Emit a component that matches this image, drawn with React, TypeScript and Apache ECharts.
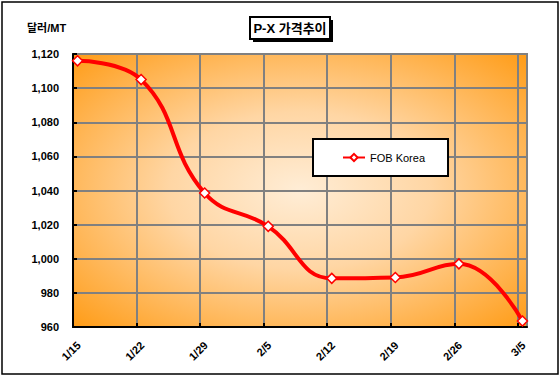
import React, { useEffect, useRef } from "react";
import * as echarts from "echarts";

const dates = ["1/15", "1/22", "1/29", "2/5", "2/12", "2/19", "2/26", "3/5"];
const fobKorea = [1116, 1105, 1038.5, 1019, 988.5, 989, 997, 963.5];
const seriesName = "FOB Korea";
const titleText = "P-X 가격추이";
const unitText = "달러/MT";
const daysPerWeek = 7;
const midDay = 0.5; // Excel date axis plots values at mid-day of each date

export default function App() {
  const ref = useRef<HTMLDivElement>(null);
  useEffect(() => {
    if (!ref.current) return;
    const chart = echarts.init(ref.current, null, { renderer: "svg" });
    const data = fobKorea.map((v, i) => [i * daysPerWeek + midDay, v]);
    const font = "'Liberation Sans', Arial, 'Noto Sans CJK KR', sans-serif";
    chart.setOption({
      animation: false,
      backgroundColor: "#ffffff",
      textStyle: { fontFamily: font },
      grid: {
        left: 73,
        top: 54,
        right: 33,
        bottom: 54,
        show: true,
        borderColor: "#808080",
        borderWidth: 2,
        backgroundColor: new echarts.graphic.RadialGradient(0.5, 0.5, 0.72, [
          { offset: 0, color: "#FFEDD6" },
          { offset: 0.4, color: "#FFD6A4" },
          { offset: 1, color: "#FF9A12" },
        ]),
      },
      legend: {
        left: 313,
        top: 139,
        padding: [13, 23, 13, 29],
        backgroundColor: "#ffffff",
        borderColor: "#000000",
        borderWidth: 2,
        itemWidth: 22,
        itemHeight: 9,
        textStyle: { fontFamily: font, fontSize: 11, color: "#000" },
        data: [seriesName],
      },
      xAxis: {
        type: "value",
        min: 0,
        max: (dates.length - 1) * daysPerWeek + 1,
        interval: daysPerWeek,
        axisLine: { show: true, onZero: false, lineStyle: { color: "#000", width: 2 } },
        axisTick: { show: true, inside: true, length: 4, lineStyle: { color: "#000", width: 2 } },
        splitLine: { show: true, lineStyle: { color: "#808080", width: 2 } },
        axisLabel: {
          rotate: 45,
          margin: 22,
          padding: [0, -8, 0, 0],
          fontSize: 11,
          fontWeight: "bold",
          color: "#000",
          fontFamily: font,
          showMaxLabel: false,
          formatter: (v: number) => {
            const i = v / daysPerWeek;
            return Number.isInteger(i) && dates[i] ? dates[i] : "";
          },
        },
      },
      yAxis: {
        type: "value",
        min: 960,
        max: 1120,
        interval: 20,
        axisLine: { show: true, lineStyle: { color: "#000", width: 2 } },
        axisTick: { show: true, inside: true, length: 4, lineStyle: { color: "#000", width: 2 } },
        splitLine: { show: true, lineStyle: { color: "#808080", width: 2 } },
        axisLabel: {
          margin: 14,
          fontSize: 11,
          fontWeight: "bold",
          color: "#000",
          fontFamily: font,
          formatter: (v: number) => v.toLocaleString("en-US"),
        },
      },
      series: [
        {
          name: seriesName,
          type: "line",
          data,
          smooth: 0.45,
          symbol: "diamond",
          symbolSize: 10,
          itemStyle: { color: "#ffffff", borderColor: "#ff0000", borderWidth: 1.5 },
          lineStyle: { color: "#ff0000", width: 4 },
          z: 3,
        },
      ],
      graphic: [
        {
          type: "rect",
          shape: { x: 2, y: 2, width: 556, height: 372 },
          style: { fill: "none", stroke: "#000", lineWidth: 1.5 },
          silent: true,
        },
        {
          type: "rect",
          shape: { x: 253, y: 20, width: 80, height: 22 },
          style: { fill: "#000" },
          silent: true,
        },
        {
          type: "rect",
          shape: { x: 250, y: 17, width: 80, height: 22 },
          style: { fill: "#fff", stroke: "#000", lineWidth: 2 },
          silent: true,
        },
        {
          type: "text",
          x: 290,
          y: 28,
          style: {
            text: titleText,
            fontSize: 13,
            fontWeight: "bold",
            fontFamily: font,
            fill: "#000",
            align: "center",
            verticalAlign: "middle",
          },
          silent: true,
        },
        {
          type: "text",
          x: 27,
          y: 28,
          style: {
            text: unitText,
            fontSize: 11,
            fontWeight: "bold",
            fontFamily: font,
            fill: "#000",
            align: "left",
            verticalAlign: "middle",
          },
          silent: true,
        },
      ],
    });
    return () => chart.dispose();
  }, []);
  return (
    <div
      ref={ref}
      style={{ position: "absolute", left: 0, top: 0, width: 560, height: 381 }}
    />
  );
}
